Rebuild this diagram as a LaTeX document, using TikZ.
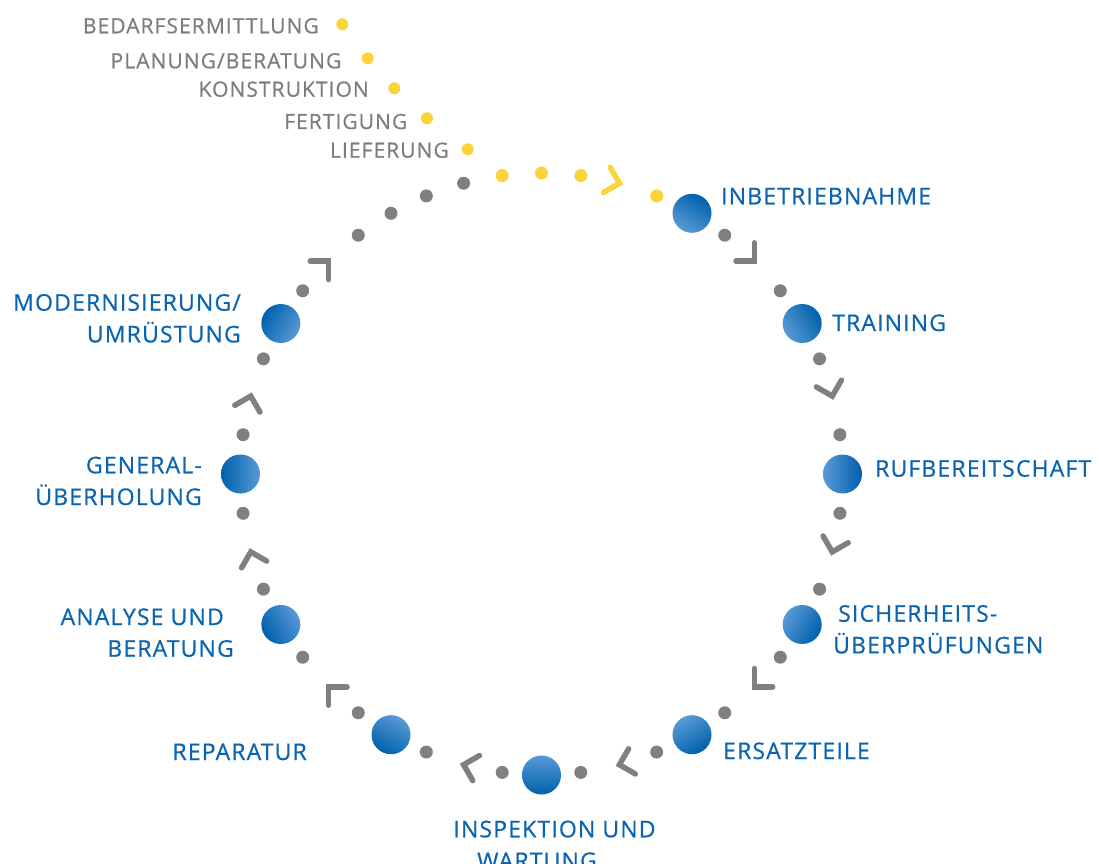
\documentclass[tikz,border=0pt]{standalone}
\usepackage{fontspec}
\setmainfont{Open Sans}[LetterSpace=5, FakeBold=0.6]
\definecolor{ctext}{RGB}{10,100,176}
\definecolor{bdark}{RGB}{0,96,172}
\definecolor{blight}{RGB}{88,154,214}
\definecolor{cgray}{RGB}{128,128,132}
\definecolor{tgray}{RGB}{125,125,128}
\definecolor{cyellow}{RGB}{253,211,60}
\newcommand{\lblfont}{\fontsize{23pt}{31.7pt}\selectfont}
\newcommand{\phasefont}{\fontsize{21pt}{31.7pt}\selectfont}
\tikzset{
  gdot/.style={circle, fill=cgray, inner sep=0pt, minimum size=13pt},
  ydot/.style={circle, fill=cyellow, inner sep=0pt, minimum size=13pt},
  ldot/.style={circle, fill=cyellow, inner sep=0pt, minimum size=12pt},
  ball/.style={circle, inner sep=0pt, minimum size=39pt, shade, top color=bdark, bottom color=blight},
  chev/.style={line width=5.5pt, line cap=round, line join=miter},
  btext/.style={text=ctext, font=\lblfont, inner sep=0pt},
  gtext/.style={text=tgray, font=\phasefont, inner sep=0pt, anchor=base east}
}
\begin{document}
\begin{tikzpicture}[x=1pt, y=1pt]
\useasboundingbox (0,0) rectangle (1099,863);
\clip (0,0) rectangle (1099,863);
\begin{scope}[shift={(541.5,389)}]
  % grey dots on the circle
  \foreach \a [count=\i] in {52.5,37.5,22.5,7.5,-7.5,-22.5,-37.5,-52.5,-67.5,-82.5,-97.5,-112.5,-127.5,-142.5,-157.5,-172.5,172.5,157.5,142.5,127.5,120,112.5,105}
    \node[gdot] (g\i) at (\a:301) {};
  % yellow dots on the circle
  \foreach \a [count=\i] in {97.5,90,82.5,67.5}
    \node[ydot] (y\i) at (\a:301) {};
  % grey chevrons
  \foreach \a in {45,15,-15,-45,-75,-105,-135,-165,165,135}
    \draw[chev, draw=cgray, shift={(\a:301)}, rotate=\a-90] (-13,13) -- (0,0) -- (-13,-13);
  % yellow chevron
  \draw[chev, draw=cyellow, shift={(75:301)}, rotate=-15] (-13,13) -- (0,0) -- (-13,-13);
  % blue balls
  \foreach \a [count=\i] in {60,30,0,-30,-60,-90,-120,-150,180,150}
    \node[ball, shading angle=\a-90] (b\i) at (\a:301) {};
\end{scope}
% labels of the blue balls
\node[btext, anchor=base west] (t1) at (721,658.7) {INBETRIEBNAHME};
\node[btext, anchor=base west] (t2) at (832,532) {TRAINING};
\node[btext, anchor=base west] (t3) at (875,386.3) {RUFBEREITSCHAFT};
\node[btext, anchor=base west] (t4) at (833,241.3) {\begin{tabular}[t]{@{}l@{}}\hspace*{5pt}SICHERHEITS-\\ÜBERPRÜFUNGEN\end{tabular}};
\node[btext, anchor=base west] (t5) at (723,104) {ERSATZTEILE};
\node[btext, anchor=base] (t6) at (554.5,25.7) {\begin{tabular}[t]{@{}c@{}}INSPEKTION UND\\WARTUNG\hspace*{35pt}\end{tabular}};
\node[btext, anchor=base east] (t7) at (307,103) {REPARATUR};
\node[btext, anchor=base east] (t8) at (234,238) {\begin{tabular}[t]{@{}r@{}}ANALYSE UND\hspace*{10pt}\\BERATUNG\end{tabular}};
\node[btext, anchor=base east] (t9) at (202,389.7) {\begin{tabular}[t]{@{}r@{}}GENERAL-\\ÜBERHOLUNG\end{tabular}};
\node[btext, anchor=base east] (t10) at (241,552.3) {\begin{tabular}[t]{@{}r@{}}MODERNISIERUNG/\\UMRÜSTUNG\end{tabular}};
% upstream phases
\node[ldot] (l1) at (342.3,838.7) {};
\node[ldot] (l2) at (367.7,804.7) {};
\node[ldot] (l3) at (394.3,774.7) {};
\node[ldot] (l4) at (427,744.7) {};
\node[ldot] (l5) at (467.7,713.7) {};
\node[gtext] (s1) at (319,829.7) {BEDARFSERMITTLUNG};
\node[gtext] (s2) at (341.5,794.7) {PLANUNG/BERATUNG};
\node[gtext] (s3) at (369,766.3) {KONSTRUKTION};
\node[gtext] (s4) at (407.5,734) {FERTIGUNG};
\node[gtext] (s5) at (449,705.3) {LIEFERUNG};
\end{tikzpicture}
\end{document}
